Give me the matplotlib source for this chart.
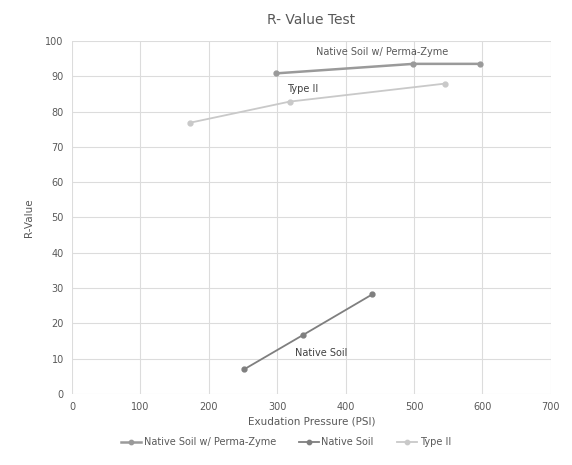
import matplotlib
matplotlib.use("Agg")
import matplotlib.pyplot as plt

series_names = ["Native Soil w/ Perma-Zyme", "Native Soil", "Type II"]
pz_x = [298, 499, 596]
pz_y = [90.8, 93.5, 93.5]
ns_x = [252, 337, 439]
ns_y = [7.0, 16.6, 28.2]
t2_x = [172, 318, 545]
t2_y = [76.8, 82.8, 87.9]
x_ticks = [0, 100, 200, 300, 400, 500, 600, 700]
y_ticks = [0, 10, 20, 30, 40, 50, 60, 70, 80, 90, 100]

txt = "#595959"
fig = plt.figure(figsize=(5.72, 4.65), dpi=100)
ax = fig.add_axes([0.126, 0.153, 0.837, 0.759])

ax.plot(pz_x, pz_y, color="#9a9a9a", lw=1.8, marker="o", ms=3.5, label=series_names[0], zorder=3)
ax.plot(ns_x, ns_y, color="#7f7f7f", lw=1.3, marker="o", ms=3.5, label=series_names[1], zorder=3)
ax.plot(t2_x, t2_y, color="#c9c9c9", lw=1.3, marker="o", ms=3.5, label=series_names[2], zorder=3)

ax.set_xlim(0, 700)
ax.set_ylim(0, 100)
ax.set_xticks(x_ticks)
ax.set_yticks(y_ticks)
ax.grid(True, color="#dcdcdc", lw=0.8)
ax.set_axisbelow(True)
for s in ax.spines.values():
    s.set_visible(False)
ax.tick_params(length=0, labelsize=7, colors=txt, pad=6)

ax.set_title("R- Value Test", fontsize=10, color=txt, pad=12)
ax.set_xlabel("Exudation Pressure (PSI)", fontsize=7.5, color=txt, labelpad=3)
ax.set_ylabel("R-Value", fontsize=7.5, color=txt, labelpad=8)

ax.text(454, 96.8, "Native Soil w/ Perma-Zyme", fontsize=7, color=txt, ha="center", va="center")
ax.text(337, 86.4, "Type II", fontsize=7, color="#404040", ha="center", va="center")
ax.text(364, 11.6, "Native Soil", fontsize=7, color="#404040", ha="center", va="center")

fig.legend(loc="center", bbox_to_anchor=(0.5, 1 - 442 / 465), ncol=3, frameon=False,
           fontsize=7, labelcolor=txt, handlelength=2.0, columnspacing=2.4, markerscale=0.9,
           handletextpad=0.3)

fig.savefig("out.png", dpi=100)
